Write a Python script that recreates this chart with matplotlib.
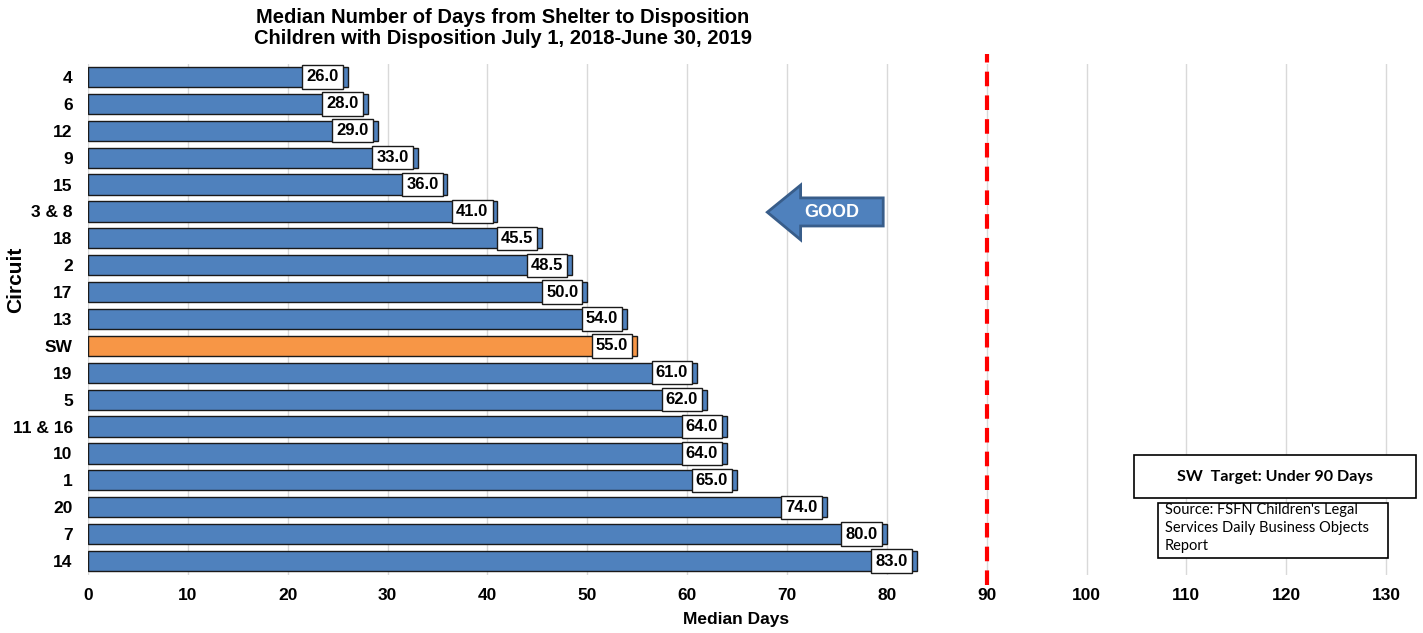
import matplotlib.pyplot as plt
from matplotlib.patches import Polygon, Rectangle

circuits = ['4', '6', '12', '9', '15', '3 & 8', '18', '2', '17', '13', 'SW',
            '19', '5', '11 & 16', '10', '1', '20', '7', '14']
median_days = [26.0, 28.0, 29.0, 33.0, 36.0, 41.0, 45.5, 48.5, 50.0, 54.0, 55.0,
               61.0, 62.0, 64.0, 64.0, 65.0, 74.0, 80.0, 83.0]
target_days = 90
x_ticks = list(range(0, 140, 10))

blue = '#4F81BD'
orange = '#F79646'
bold_font = ['Liberation Sans Narrow', 'Liberation Sans', 'DejaVu Sans']

fig = plt.figure(figsize=(14.23, 6.33), dpi=100)
ax = fig.add_axes([88 / 1423, 1 - 574.5 / 633, 1332 / 1423, 511 / 633])

colors = [orange if c == 'SW' else blue for c in circuits]
ypos = list(range(len(circuits)))
ax.barh(ypos, median_days, height=0.75, color=colors, edgecolor='#1a1a1a',
        linewidth=1.0, zorder=3)

# value boxes sit just inside the end of each bar
for y, v in zip(ypos, median_days):
    ax.annotate(f'{v:.1f}', xy=(v, y), xytext=(-6.5, 0), textcoords='offset points',
                ha='right', va='center', fontsize=12, fontweight='bold',
                family='Liberation Sans', zorder=5,
                bbox=dict(boxstyle='square,pad=0.25', facecolor='white',
                          edgecolor='#1a1a1a', linewidth=1.0))

ax.set_ylim(len(circuits) - 0.5, -0.5)
ax.set_xlim(0, 133.4)
ax.set_xticks(x_ticks)
ax.set_yticks(ypos)
ax.set_yticklabels(circuits)
ax.grid(axis='x', color='#D9D9D9', linewidth=1.0, zorder=0)
for s in ax.spines.values():
    s.set_visible(False)
ax.tick_params(length=0)
ax.tick_params(axis='x', pad=10)
ax.tick_params(axis='y', pad=11)
for lbl in ax.get_xticklabels() + ax.get_yticklabels():
    lbl.set_fontsize(12.5)
    lbl.set_fontweight('bold')
    lbl.set_family(bold_font)

# target line
ax.axvline(target_days, ymin=-0.02, ymax=1.018, color='#FF0000', linewidth=3,
           linestyle=(0, (3.5, 2.2)), clip_on=False, zorder=4)

ax.set_xlabel('Median Days', fontsize=12.5, fontweight='bold', family='Liberation Sans')
ax.xaxis.set_label_coords(0.4865, -0.073)
ax.set_ylabel('Circuit', fontsize=15, fontweight='bold', family='Liberation Sans')
ax.yaxis.set_label_coords(-0.047, 0.577)

# "GOOD" arrow pointing left
arrow = Polygon([(0.510, 0.709), (0.535, 0.762), (0.535, 0.737), (0.597, 0.737),
                 (0.597, 0.682), (0.535, 0.682), (0.535, 0.655)],
                closed=True, transform=ax.transAxes, facecolor=blue,
                edgecolor='#385D8A', linewidth=2, zorder=6)
ax.add_patch(arrow)
ax.text(0.5585, 0.709, 'GOOD', transform=ax.transAxes, ha='center', va='center',
        color='white', fontsize=13, fontweight='bold', family='Liberation Sans', zorder=7)

fig.text(0.3535, 0.987, 'Median Number of Days from Shelter to Disposition\n'
         'Children with Disposition July 1, 2018-June 30, 2019',
         ha='center', va='top', fontsize=14.5, fontweight='bold',
         family='Liberation Sans', linespacing=1.15)

# target and source boxes
fig.patches.append(Rectangle((0.797, 0.2133), 0.198, 0.068, transform=fig.transFigure,
                             facecolor='white', edgecolor='black', linewidth=1.2))
fig.text(0.896, 0.2467, 'SW  Target: Under 90 Days', ha='center', va='center',
         fontsize=11.6, fontweight='bold', family='Lato')
fig.patches.append(Rectangle((0.8138, 0.1185), 0.1616, 0.0869, transform=fig.transFigure,
                             facecolor='white', edgecolor='black', linewidth=1.2))
fig.text(0.8185, 0.2055, "Source: FSFN Children's Legal\nServices Daily Business Objects\nReport",
         ha='left', va='top', fontsize=10.5, family='Lato', linespacing=1.35)

fig.savefig('out.png', dpi=100)
